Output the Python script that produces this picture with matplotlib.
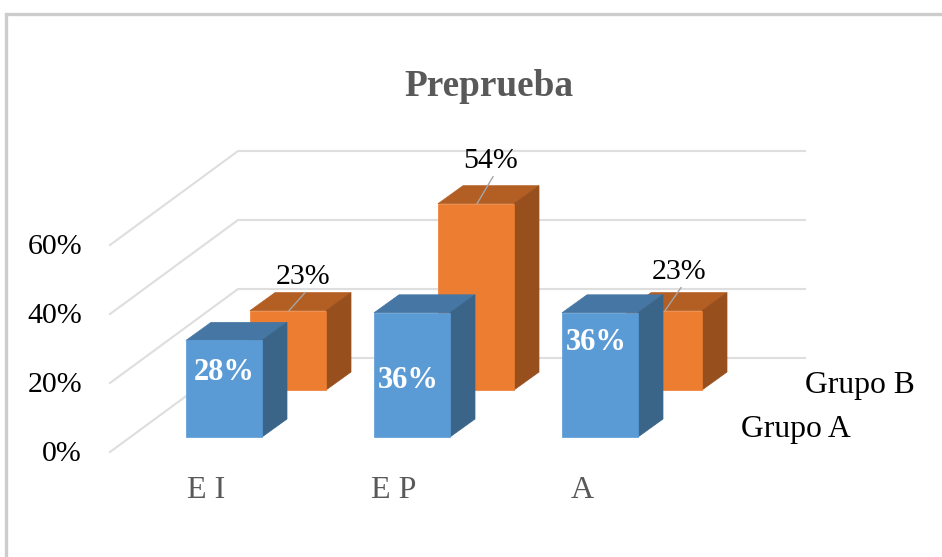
import matplotlib
matplotlib.use("Agg")
import matplotlib.pyplot as plt
from matplotlib.patches import Polygon

plt.rcParams["font.family"] = ["Liberation Serif", "DejaVu Serif"]

categories = ["E I", "E P", "A"]
grupo_a = [28, 36, 36]
grupo_b = [23, 54, 23]
y_ticks = [0, 20, 40, 60]

# pixel layout of the fake 3d chart
PX_PER_PCT = 3.45
GROUP_STEP = 188
BAR_W = 76
DEPTH_X = 25
DEPTH_Y = 18
A_X0, A_BASE = 186, 437
B_X0, B_BASE = 250, 390
WALL_LEFT, WALL_RIGHT, WALL_BASE = 238, 805, 358
FRONT_LEFT, FRONT_BASE = 110, 452
GRID = "#dedede"
TEXT_GREY = "#595959"


def draw_bar(ax, x, base, value, front, top, side):
    y = base - value * PX_PER_PCT
    # same colour edges so the faces don't show a seam
    ax.add_patch(Polygon([(x, y), (x + BAR_W, y), (x + BAR_W + DEPTH_X, y - DEPTH_Y), (x + DEPTH_X, y - DEPTH_Y)],
                         facecolor=top, edgecolor=top, lw=0.5, zorder=3))
    ax.add_patch(Polygon([(x + BAR_W, y), (x + BAR_W + DEPTH_X, y - DEPTH_Y),
                          (x + BAR_W + DEPTH_X, base - DEPTH_Y), (x + BAR_W, base)],
                         facecolor=side, edgecolor=side, lw=0.5, zorder=3))
    ax.add_patch(Polygon([(x, y), (x + BAR_W, y), (x + BAR_W, base), (x, base)],
                         facecolor=front, edgecolor=front, lw=0.5, zorder=3))
    return y


fig = plt.figure(figsize=(9.42, 5.57), dpi=100)
ax = fig.add_axes([0, 0, 1, 1])
ax.set_xlim(0, 942)
ax.set_ylim(557, 0)
ax.axis("off")

# outer frame, only top and left show up
ax.plot([5.5, 5.5, 942], [557, 13.5, 13.5], color="#cccccc", lw=2.4, solid_joinstyle="miter")

ax.text(489, 87, "Preprueba", ha="center", va="center", fontsize=26.8, fontweight="bold", color=TEXT_GREY)

for tick in y_ticks:
    h = tick * PX_PER_PCT
    ax.plot([FRONT_LEFT, WALL_LEFT, WALL_RIGHT], [FRONT_BASE - h, WALL_BASE - h, WALL_BASE - h],
            color=GRID, lw=1.5, solid_joinstyle="miter", zorder=1)
    ax.text(82, FRONT_BASE - h + 2, f"{tick}%", ha="right", va="center", fontsize=21.5, color="black")

leader_rise = [18, 27, 23]
label_rise = [34, 43, 39]
white_label_x = [38, 34, 34]
white_label_y = [373, 380, 342]
category_x = [1, -3, 9]

for i, value in enumerate(grupo_b):
    x = B_X0 + i * GROUP_STEP
    y = draw_bar(ax, x, B_BASE, value, "#ed7d31", "#b35e23", "#974f1d")

for i, value in enumerate(grupo_a):
    x = A_X0 + i * GROUP_STEP
    draw_bar(ax, x, A_BASE, value, "#5b9bd5", "#4676a3", "#3a6589")
    ax.text(x + white_label_x[i], white_label_y[i], f"{value}%", ha="center", va="center", fontsize=22,
            fontweight="bold", color="white", zorder=5)
    ax.text(x + category_x[i], 490, categories[i], ha="left", va="center", fontsize=23, color=TEXT_GREY)

for i, value in enumerate(grupo_b):
    x = B_X0 + i * GROUP_STEP
    y = B_BASE - value * PX_PER_PCT
    ax.plot([x + 39, x + 55], [y, y - leader_rise[i]], color="#a6a6a6", lw=1.0, zorder=4)
    ax.text(x + 53, y - label_rise[i], f"{value}%", ha="center", va="center", fontsize=21.5, color="black", zorder=5)

ax.text(805, 385, "Grupo B", ha="left", va="center", fontsize=22.8, color="black")
ax.text(741, 430, "Grupo A", ha="left", va="center", fontsize=22.8, color="black")

fig.savefig("out.png", dpi=100)
